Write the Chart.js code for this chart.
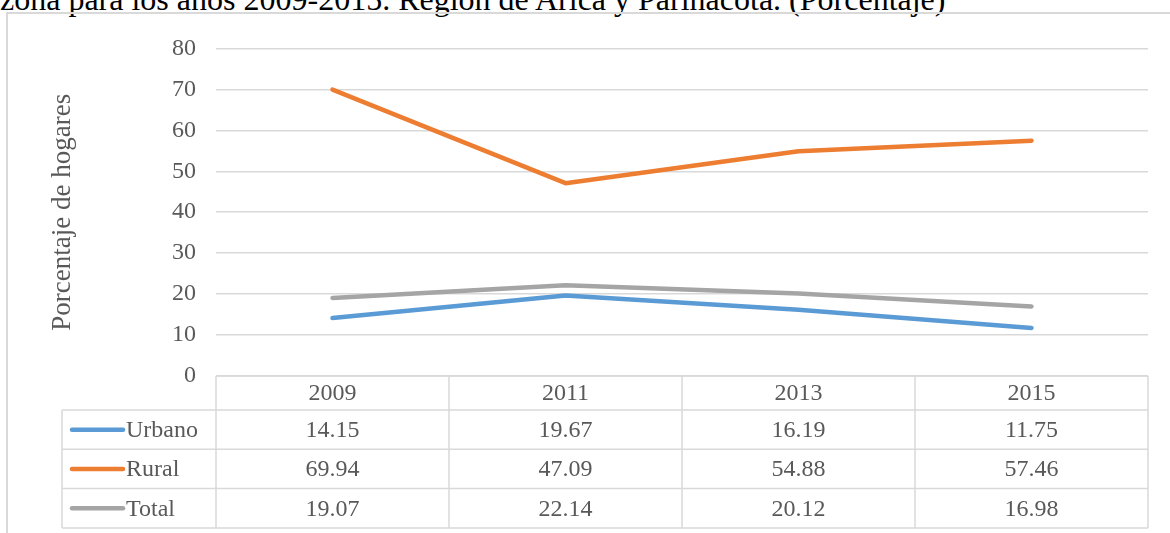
<!DOCTYPE html>
<html>
<head>
<meta charset="utf-8">
<script src="https://cdn.jsdelivr.net/npm/chart.js@4.4.1/dist/chart.umd.min.js"></script>
<style>
    html, body { margin: 0; padding: 0; background: #fff; overflow: hidden; }
    body { width: 1170px; height: 533px; position: relative; font-family: "Liberation Serif", "Times New Roman", serif; }
    #title { position: absolute; left: 0; top: -19px; font-size: 32px; color: #000; white-space: nowrap; line-height: 36px; }
    #frame { position: absolute; left: 6px; top: 12px; width: 1200px; height: 560px; border-left: 2px solid #d9d9d9; border-top: 2px solid #d9d9d9; }
    #wrap { position: absolute; left: 7px; top: 14px; width: 1163px; height: 519px; }
</style>
</head>
<body>
<div id="title">zona para los años 2009-2015. Región de Arica y Parinacota. (Porcentaje)</div>
<div id="frame"></div>
<div id="wrap"><canvas id="chart"></canvas></div>
<script>
const years = ['2009', '2011', '2013', '2015'];
const urbano = [14.15, 19.67, 16.19, 11.75];
const rural = [69.94, 47.09, 54.88, 57.46];
const total = [19.07, 22.14, 20.12, 16.98];
const seriesNames = ['Urbano', 'Rural', 'Total'];
const seriesColors = ['#5b9bd5', '#ed7d31', '#a5a5a5'];
const yTicks = [0, 10, 20, 30, 40, 50, 60, 70, 80];

const textColor = '#595959';
const lineColor = '#d9d9d9';
const serif = '"Liberation Serif", "Times New Roman", serif';

// data table under the plot, aligned to the category scale
const dataTablePlugin = {
    id: 'dataTable',
    afterDraw(chart) {
        const ctx = chart.ctx;
        const area = chart.chartArea;
        const x = chart.scales.x;
        const colW = (area.right - area.left) / years.length;
        const tableLeft = 55;
        const headerH = 34;
        const rowH = 39.3;
        const top = area.bottom;
        const bottom = top + headerH + rowH * seriesNames.length;

        ctx.save();
        ctx.strokeStyle = lineColor;
        ctx.lineWidth = 1.5;

        // horizontal lines
        ctx.beginPath();
        ctx.moveTo(area.left, top);
        ctx.lineTo(area.right, top);
        for (let r = 0; r <= seriesNames.length; r++) {
            const y = top + headerH + r * rowH;
            ctx.moveTo(tableLeft, y);
            ctx.lineTo(area.right, y);
        }
        // vertical lines
        ctx.moveTo(tableLeft, top + headerH);
        ctx.lineTo(tableLeft, bottom);
        for (let c = 0; c <= years.length; c++) {
            const cx = area.left + c * colW;
            ctx.moveTo(cx, top);
            ctx.lineTo(cx, bottom);
        }
        ctx.stroke();

        ctx.fillStyle = textColor;
        ctx.font = '24px ' + serif;
        ctx.textAlign = 'center';
        ctx.textBaseline = 'middle';
        years.forEach((yr, i) => {
            ctx.fillText(yr, x.getPixelForValue(i), top + headerH / 2 + 1);
        });

        const rows = [urbano, rural, total];
        rows.forEach((vals, r) => {
            const cy = top + headerH + r * rowH + rowH / 2 + 1;
            vals.forEach((v, i) => {
                ctx.fillText(v.toFixed(2), x.getPixelForValue(i), cy);
            });
            // legend key
            ctx.save();
            ctx.strokeStyle = seriesColors[r];
            ctx.lineWidth = 4.5;
            ctx.lineCap = 'round';
            ctx.beginPath();
            ctx.moveTo(65, cy - 1);
            ctx.lineTo(116, cy - 1);
            ctx.stroke();
            ctx.restore();
            ctx.textAlign = 'left';
            ctx.fillText(seriesNames[r], 119, cy);
            ctx.textAlign = 'center';
        });

        // axis title
        ctx.save();
        ctx.translate(56, (area.top + area.bottom) / 2);
        ctx.rotate(-Math.PI / 2);
        ctx.font = '27px ' + serif;
        ctx.fillText('Porcentaje de hogares', 0, 0);
        ctx.restore();

        ctx.restore();
    }
};

function makeSet(label, data, color) {
    return {
        label: label,
        data: data,
        borderColor: color,
        backgroundColor: color,
        borderWidth: 4.5,
        borderCapStyle: 'round',
        borderJoinStyle: 'round',
        pointRadius: 0,
        tension: 0
    };
}

new Chart(document.getElementById('chart'), {
    type: 'line',
    data: {
        labels: years,
        datasets: [
            makeSet(seriesNames[0], urbano, seriesColors[0]),
            makeSet(seriesNames[1], rural, seriesColors[1]),
            makeSet(seriesNames[2], total, seriesColors[2])
        ]
    },
    options: {
        responsive: true,
        maintainAspectRatio: false,
        animation: false,
        layout: { padding: { top: 32, right: 22, bottom: 157, left: 0 } },
        plugins: { legend: { display: false }, tooltip: { enabled: false } },
        scales: {
            x: {
                display: false,
                offset: true
            },
            y: {
                min: 0,
                max: 80,
                afterBuildTicks: (scale) => { scale.ticks = yTicks.map(v => ({ value: v })); },
                afterFit: (scale) => { scale.width = 209; },
                border: { display: false },
                grid: { color: lineColor, lineWidth: 1.5, drawTicks: false },
                ticks: {
                    color: textColor,
                    padding: 20,
                    font: { family: serif, size: 24 }
                }
            }
        }
    },
    plugins: [dataTablePlugin]
});
</script>
</body>
</html>
